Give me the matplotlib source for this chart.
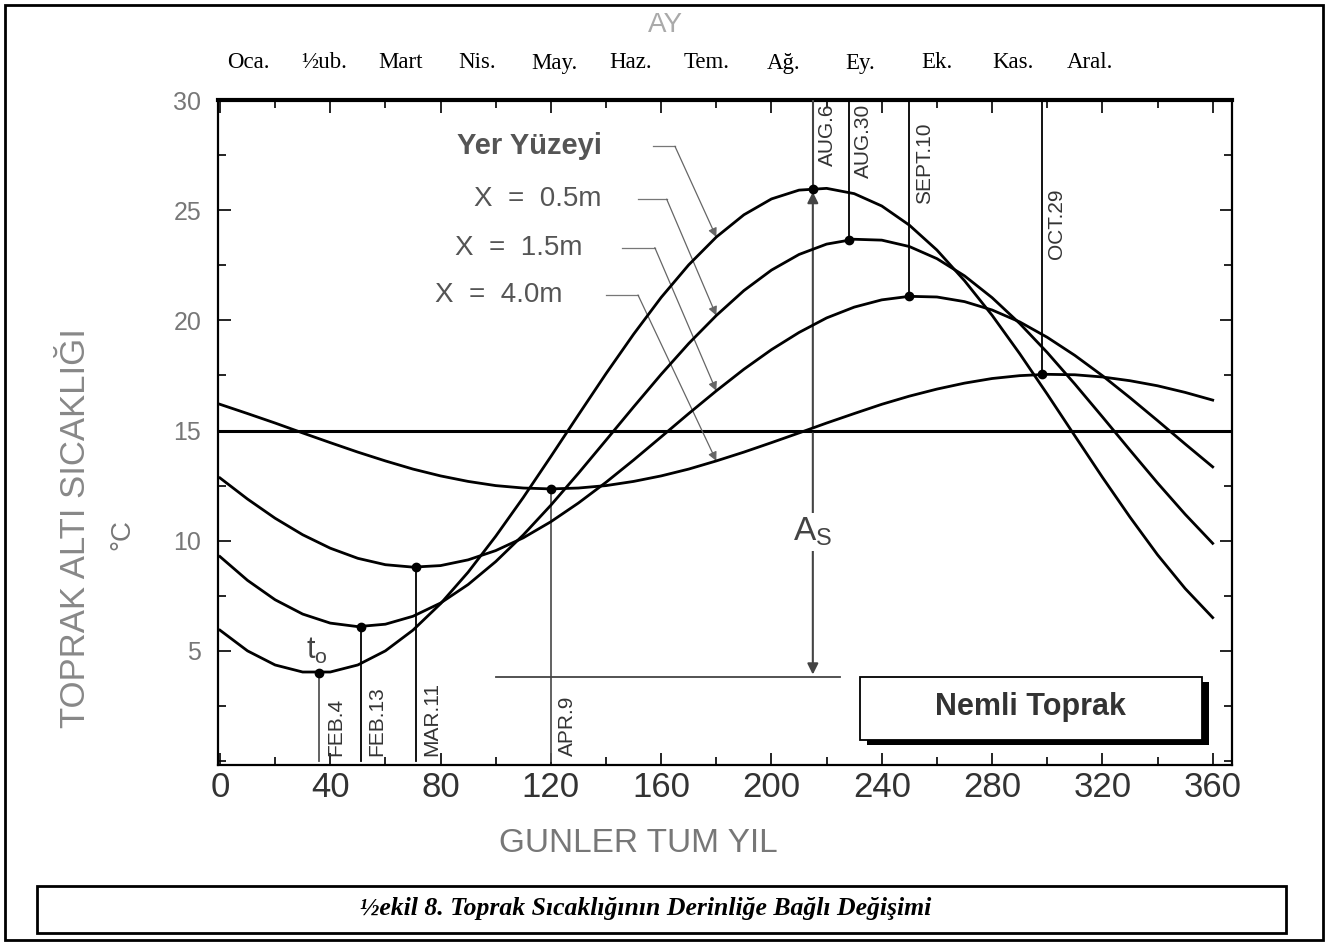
import matplotlib
matplotlib.use('Agg')
import matplotlib.pyplot as plt
from matplotlib.patches import Rectangle
from matplotlib.ticker import MultipleLocator
import numpy as np

# day of year (every 10 days) and soil temperature (C)
days = list(range(0, 361, 10))
surface = [5.94, 5.00, 4.36, 4.04, 4.04, 4.36, 5.00, 5.94, 7.14, 8.57, 10.20, 11.96, 13.82,
           15.71, 17.58, 19.37, 21.04, 22.52, 23.78, 24.79, 25.51, 25.91, 25.99, 25.75, 25.19,
           24.32, 23.19, 21.80, 20.23, 18.49, 16.65, 14.76, 12.88, 11.07, 9.36, 7.83, 6.51]
depth_05 = [9.28, 8.20, 7.32, 6.67, 6.26, 6.10, 6.21, 6.57, 7.17, 8.01, 9.05, 10.26, 11.61,
            13.06, 14.56, 16.07, 17.55, 18.95, 20.22, 21.35, 22.28, 22.99, 23.46, 23.68, 23.64,
            23.35, 22.80, 22.02, 21.03, 19.86, 18.54, 17.11, 15.62, 14.11, 12.62, 11.20, 9.88]
depth_15 = [12.85, 11.89, 11.02, 10.27, 9.66, 9.20, 8.91, 8.80, 8.87, 9.13, 9.55, 10.13, 10.86,
            11.71, 12.65, 13.66, 14.71, 15.77, 16.80, 17.78, 18.67, 19.45, 20.11, 20.60, 20.93,
            21.09, 21.06, 20.85, 20.47, 19.93, 19.23, 18.41, 17.49, 16.49, 15.45, 14.39, 13.35]
depth_40 = [16.19, 15.77, 15.34, 14.89, 14.45, 14.02, 13.62, 13.25, 12.94, 12.69, 12.50, 12.39, 12.35,
            12.39, 12.50, 12.69, 12.94, 13.25, 13.62, 14.02, 14.45, 14.89, 15.34, 15.77, 16.19,
            16.56, 16.88, 17.15, 17.36, 17.49, 17.55, 17.53, 17.43, 17.26, 17.03, 16.73, 16.38]
curves = [surface, depth_05, depth_15, depth_40]
curve_names = ['Yer Yüzeyi', 'X  =  0.5m', 'X  =  1.5m', 'X  =  4.0m']

mean_temp = 15

min_days = [36, 51, 71, 120]
min_temps = [4.0, 6.1, 8.8, 12.35]
min_labels = ['FEB.4', 'FEB.13', 'MAR.11', 'APR.9']
max_days = [215, 228, 250, 298]
max_temps = [25.95, 23.65, 21.1, 17.55]
max_labels = ['AUG.6', 'AUG.30', 'SEPT.10', 'OCT.29']

months = ['Oca.', '½ub.', 'Mart', 'Nis.', 'May.', 'Haz.', 'Tem.', 'Ağ.', 'Ey.', 'Ek.', 'Kas.', 'Aral.']

plt.rcParams['font.family'] = ['Liberation Sans', 'DejaVu Sans']

W, H = 1327, 944
fig = plt.figure(figsize=(W / 100, H / 100), dpi=100)
ax = fig.add_axes([218 / W, 1 - 765 / H, (1232 - 218) / W, (765 - 100) / H])

for c in curves:
    ax.plot(days, c, color='black', lw=2, zorder=4)

ax.axhline(mean_temp, color='black', lw=2.2, zorder=3)

# extremes: dots and vertical date lines
ax.plot(min_days, min_temps, 'o', color='black', ms=6, zorder=5)
ax.plot(max_days, max_temps, 'o', color='black', ms=6, zorder=5)
for i, (d, t, lab) in enumerate(zip(min_days, min_temps, min_labels)):
    col = '#555' if i in (0, 3) else 'black'
    ax.plot([d, d], [0, t], color=col, lw=1.3, zorder=3)
    ax.text(d + 2.5, 0.25, lab, rotation=90, ha='left', va='bottom', fontsize=15, color='#333')
max_tops = [29.85, 29.85, 29.0, 26.0]
for i, (d, t, lab) in enumerate(zip(max_days, max_temps, max_labels)):
    ax.plot([d, d], [30, t], color='black' if i else '#444', lw=1.5 if i == 0 else 1.3, zorder=3)
    ax.text(d + 2, max_tops[i], lab, rotation=90, ha='left', va='top', fontsize=15, color='#333')

# amplitude A_s
d0 = max_days[0]
ax.annotate('', xy=(d0, max_temps[0]), xytext=(d0, mean_temp),
            arrowprops=dict(arrowstyle='-|>', color='#444', lw=1.5, mutation_scale=16), zorder=3)
ax.annotate('', xy=(d0, min_temps[0] - 0.2), xytext=(d0, mean_temp),
            arrowprops=dict(arrowstyle='-|>', color='#444', lw=1.5, mutation_scale=16), zorder=3)
ax.plot([100, 225], [min_temps[0] - 0.2] * 2, color='#444', lw=1.3, zorder=3)
ax.text(d0, 10.4, r'A$_\mathregular{S}$', ha='center', va='center', fontsize=24, color='#444',
        zorder=6, bbox=dict(facecolor='white', edgecolor='none', pad=2))
ax.text(min_days[0] - 1, 5.0, r't$_\mathregular{o}$', ha='center', va='center', fontsize=22, color='#444')

# curve labels with leader arrows
label_y = [27.9, 25.5, 23.3, 21.15]
label_right = [138.5, 138.5, 131.6, 124.4]
lead_start = [157, 151.6, 145.8, 140]
lead_bend = [165, 162, 157.7, 151.6]
tip = days.index(180)
for i, name in enumerate(curve_names):
    ax.text(label_right[i], label_y[i], name, ha='right', va='center', fontsize=21 if i == 0 else 20,
            color='#555', fontweight='bold' if i == 0 else 'normal')
    ax.plot([lead_start[i], lead_bend[i]], [label_y[i]] * 2, color='#777', lw=0.9)
    ax.annotate('', xy=(days[tip], curves[i][tip]), xytext=(lead_bend[i], label_y[i]),
                arrowprops=dict(arrowstyle='-|>', color='#666', lw=0.9, mutation_scale=13,
                                shrinkA=0, shrinkB=0))

# "Nemli Toprak" box with shadow
ax.add_patch(Rectangle((234.5, 0.72), 124, 2.85, facecolor='black', edgecolor='none', zorder=5))
ax.add_patch(Rectangle((232, 0.95), 124, 2.85, facecolor='white', edgecolor='black', lw=1.3, zorder=6))
ax.text(294, 2.45, 'Nemli Toprak', ha='center', va='center', fontsize=22, fontweight='bold',
        color='#333', zorder=7)

ax.set_xlim(-0.7, 367)
ax.set_ylim(-0.18, 30)
ax.set_xticks(range(0, 361, 40))
ax.xaxis.set_minor_locator(MultipleLocator(20))
ax.set_yticks(range(5, 31, 5))
ax.yaxis.set_minor_locator(MultipleLocator(2.5))
ax.tick_params(which='both', direction='in', top=True, right=True, width=1.2)
ax.tick_params(which='major', length=9)
ax.tick_params(which='minor', length=6)
ax.tick_params(axis='x', labelsize=25, labelcolor='#333', pad=4)
ax.tick_params(axis='y', labelsize=18, labelcolor='#777', pad=12)
for s in ax.spines.values():
    s.set_linewidth(1.6)
ax.spines['top'].set_linewidth(3)

# text around the axes
fig.text(665 / W, 1 - 25 / H, 'AY', ha='center', va='center', fontsize=20, color='#aaa')
for i, m in enumerate(months):
    fig.text((248 + i * 76.5) / W, 1 - 63 / H, m, ha='center', va='center', fontsize=16.5,
             family=['Liberation Serif', 'DejaVu Serif'])
fig.text(76 / W, 1 - 528 / H, 'TOPRAK ALTI SICAKLIĞI', rotation=90, ha='center', va='center',
         fontsize=25, color='#888')
fig.text(122 / W, 1 - 535 / H, '°C', rotation=90, ha='center', va='center', fontsize=20, color='#777')
fig.text(638 / W, 1 - 843 / H, 'GUNLER TUM YIL', ha='center', va='center', fontsize=24, color='#777')

# frame and caption
fig.add_artist(Rectangle((5 / W, 4 / H), 1318 / W, 935 / H, transform=fig.transFigure,
                         fill=False, edgecolor='black', lw=2))
fig.add_artist(Rectangle((37 / W, 11 / H), 1249 / W, 47 / H, transform=fig.transFigure,
                         fill=False, edgecolor='black', lw=2))
fig.text(646 / W, 1 - 909 / H, '½ekil 8. Toprak Sıcaklığının Derinliğe Bağlı Değişimi',
         ha='center', va='center', fontsize=18.5, fontweight='bold', fontstyle='italic',
         family=['Liberation Serif', 'DejaVu Serif'])

fig.savefig('out.png', dpi=100)
